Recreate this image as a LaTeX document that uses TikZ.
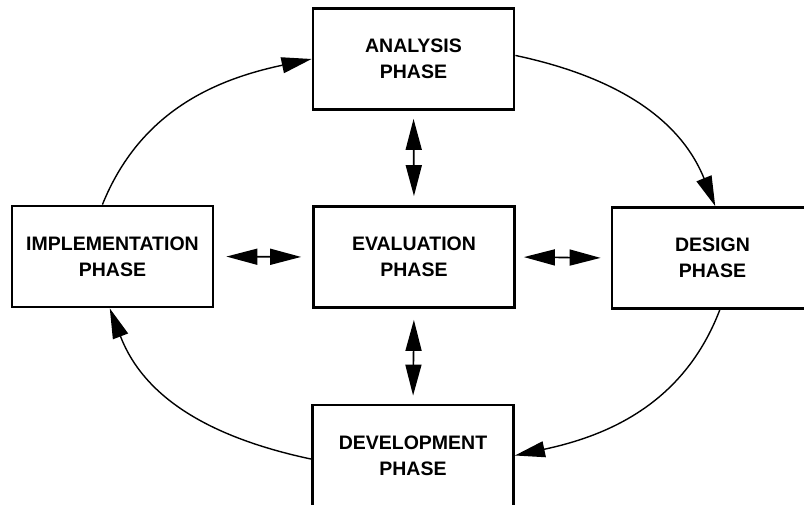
\documentclass[tikz,border=0pt]{standalone}
\usepackage{fontspec}
\setmainfont{Liberation Sans}
\usetikzlibrary{arrows.meta}
\begin{document}
\begin{tikzpicture}[x=1pt,y=1pt,
  phase/.style={draw=black, line width=2.8pt, rectangle, minimum width=201pt, minimum height=101pt, inner sep=0pt, align=center, font=\bfseries\fontsize{19.5}{26}\selectfont, text=black},
  cyc/.style={line width=1.4pt, -{Triangle[length=30pt,width=16pt]}},
  dbl/.style={line width=1.6pt, {Triangle[length=31pt,width=16pt]}-{Triangle[length=31pt,width=16pt]}}
]
\useasboundingbox (0,0) rectangle (804,-505);
\node[phase] (ana) at (413.5,-59) {ANALYSIS\\PHASE};
\node[phase] (eval) at (414,-257) {EVALUATION\\PHASE};
\node[phase] (impl) at (112.5,-256.5) {IMPLEMENTATION\\PHASE};
\node[phase] (des) at (712.5,-258) {DESIGN\\PHASE};
\node[phase] (dev) at (413,-455.5) {DEVELOPMENT\\PHASE};
% cycle
\draw[cyc] (impl.101) to[out=68,in=192] (ana.west);
\draw[cyc] (ana.2) to[out=-12,in=112] (des.87);
\draw[cyc] (des.278) to[out=249,in=12] (dev.east);
\draw[cyc] (dev.182) to[out=168,in=-69] (impl.267);
% double arrows
\draw[dbl, shorten <=12pt, shorten >=11pt] (impl.east) -- (eval.west);
\draw[dbl, shorten <=8pt, shorten >=10pt] (eval.east) -- (des.west);
\draw[dbl, shorten <=8pt, shorten >=9pt] (ana.south) -- (eval.north);
\draw[dbl, shorten <=11pt, shorten >=8pt] (eval.south) -- (dev.north);
\end{tikzpicture}
\end{document}
